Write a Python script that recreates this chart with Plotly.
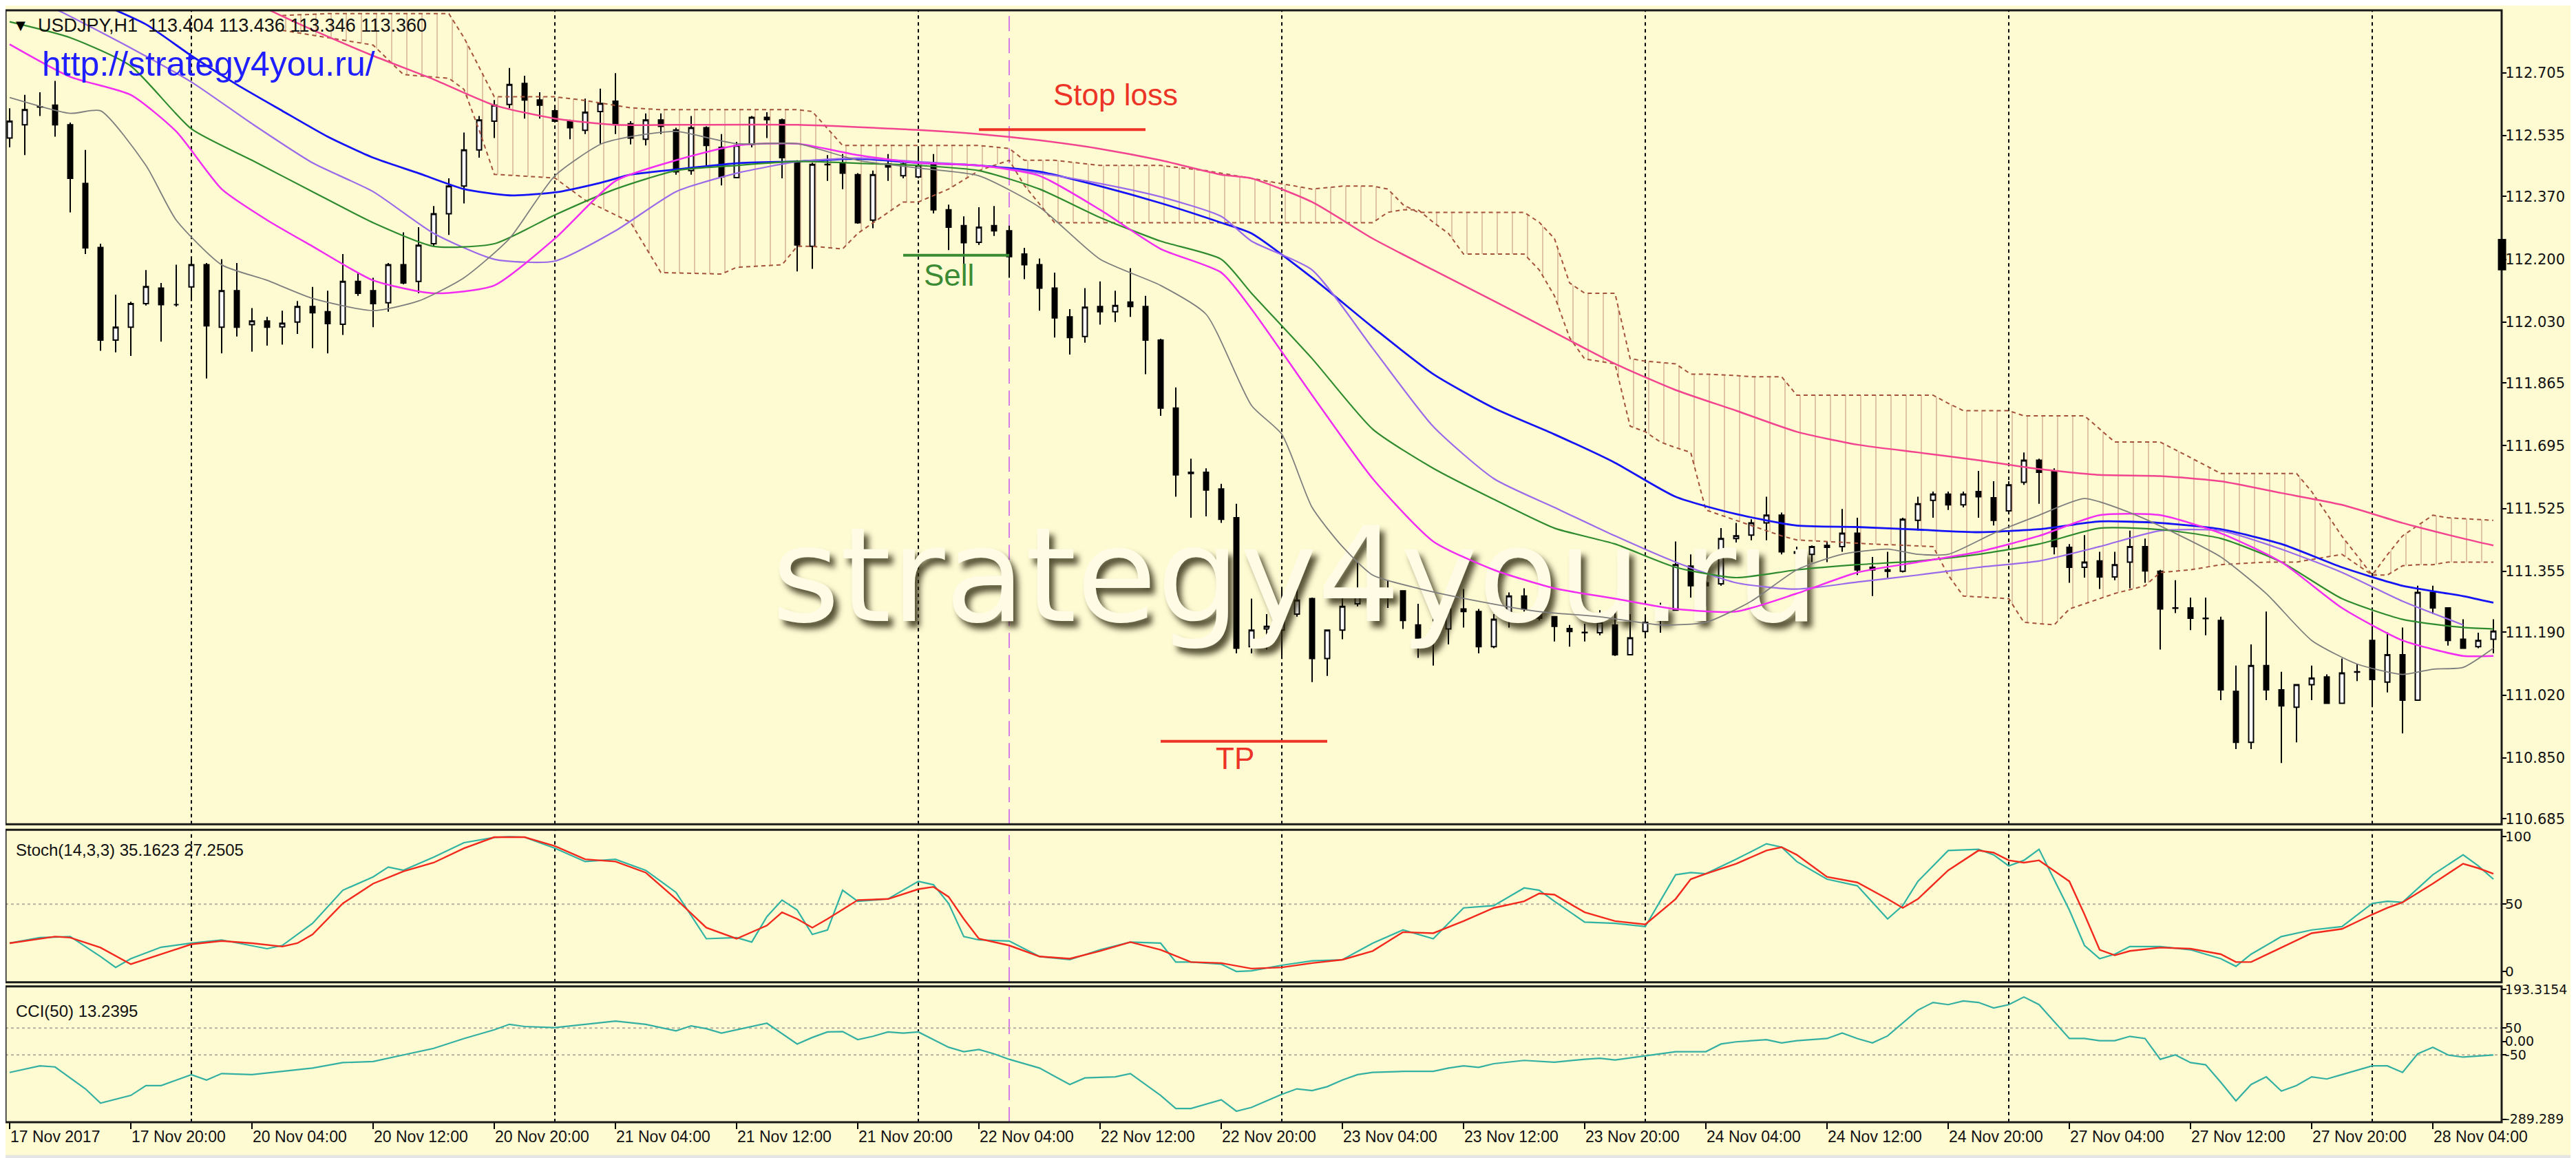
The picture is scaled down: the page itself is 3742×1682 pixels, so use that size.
import plotly.graph_objects as go

# ---------------- DATA ----------------
symbol_header = "USDJPY,H1  113.404 113.436 113.346 113.360"
site_url = "http://strategy4you.ru/"
watermark_text = "strategy4you.ru"
stoch_label = "Stoch(14,3,3) 35.1623 27.2505"
cci_label = "CCI(50) 13.2395"

bars = list(range(165))
opens = [112.528, 112.564, 112.613, 112.617, 112.564, 112.405, 112.232, 111.981, 112.016, 112.080,
         112.122, 112.077, 112.125, 112.185, 112.016, 112.115, 112.023, 112.033, 112.017, 112.030,
         112.072, 112.058, 112.024, 112.140, 112.115, 112.082, 112.185, 112.140, 112.242, 112.323,
         112.398, 112.496, 112.574, 112.619, 112.676, 112.631, 112.602, 112.574, 112.549, 112.600,
         112.628, 112.567, 112.525, 112.577, 112.550, 112.440, 112.556, 112.503, 112.421, 112.511,
         112.584, 112.577, 112.461, 112.235, 112.457, 112.461, 112.429, 112.306, 112.458, 112.426,
         112.423, 112.461, 112.334, 112.291, 112.246, 112.291, 112.277, 112.214, 112.185, 112.122,
         112.044, 111.991, 112.072, 112.058, 112.084, 112.072, 111.981, 111.797, 111.623, 111.623,
         111.578, 111.500, 111.151, 111.199, 111.196, 111.239, 111.281, 111.119, 111.196, 111.267,
         111.302, 111.288, 111.302, 111.210, 111.171, 111.199, 111.253, 111.246, 111.151, 111.222,
         111.288, 111.253, 111.232, 111.200, 111.190, 111.189, 111.210, 111.129, 111.192, 111.222,
         111.250, 111.369, 111.324, 111.321, 111.444, 111.453, 111.486, 111.507, 111.408, 111.401,
         111.425, 111.422, 111.458, 111.366, 111.359, 111.355, 111.493, 111.547, 111.564, 111.535,
         111.571, 111.554, 111.519, 111.596, 111.656, 111.627, 111.420, 111.366, 111.383, 111.340,
         111.380, 111.422, 111.355, 111.256, 111.256, 111.228, 111.222, 111.030, 110.892, 111.100,
         111.034, 110.987, 111.048, 111.069, 110.998, 111.083, 111.168, 111.055, 111.129, 111.006,
         111.298, 111.256, 111.171, 111.151, 111.171]
highs = [112.609, 112.645, 112.652, 112.683, 112.570, 112.496, 112.242, 112.104, 112.085, 112.171,
         112.136, 112.185, 112.200, 112.190, 112.200, 112.190, 112.068, 112.044, 112.061, 112.087,
         112.125, 112.115, 112.214, 112.164, 112.150, 112.190, 112.273, 112.287, 112.344, 112.419,
         112.543, 112.588, 112.631, 112.718, 112.697, 112.652, 112.609, 112.578, 112.635, 112.662,
         112.704, 112.574, 112.595, 112.595, 112.556, 112.588, 112.560, 112.539, 112.518, 112.588,
         112.598, 112.581, 112.468, 112.461, 112.482, 112.485, 112.433, 112.440, 112.485, 112.461,
         112.503, 112.485, 112.348, 112.316, 112.341, 112.344, 112.291, 112.231, 112.202, 112.164,
         112.065, 112.122, 112.140, 112.115, 112.176, 112.101, 111.985, 111.853, 111.660, 111.634,
         111.592, 111.538, 111.281, 111.239, 111.309, 111.309, 111.284, 111.196, 111.298, 111.380,
         111.352, 111.331, 111.302, 111.267, 111.242, 111.309, 111.307, 111.253, 111.239, 111.298,
         111.309, 111.274, 111.232, 111.210, 111.213, 111.250, 111.246, 111.239, 111.232, 111.270,
         111.436, 111.401, 111.331, 111.472, 111.486, 111.496, 111.557, 111.514, 111.422, 111.425,
         111.436, 111.524, 111.500, 111.394, 111.408, 111.500, 111.557, 111.571, 111.571, 111.571,
         111.627, 111.599, 111.599, 111.677, 111.660, 111.634, 111.429, 111.453, 111.408, 111.408,
         111.465, 111.444, 111.359, 111.331, 111.284, 111.284, 111.232, 111.100, 111.157, 111.246,
         111.083, 111.048, 111.100, 111.076, 111.119, 111.104, 111.246, 111.190, 111.203, 111.316,
         111.316, 111.256, 111.225, 111.189, 111.225]
lows = [112.503, 112.482, 112.588, 112.532, 112.327, 112.214, 111.952, 111.948, 111.938, 112.075,
        111.977, 112.072, 112.087, 111.877, 111.945, 111.991, 111.950, 111.966, 111.969, 111.998,
        111.959, 111.945, 111.995, 112.101, 112.016, 112.058, 112.132, 112.108, 112.235, 112.266,
        112.351, 112.475, 112.528, 112.609, 112.581, 112.581, 112.570, 112.525, 112.539, 112.513,
        112.539, 112.511, 112.508, 112.539, 112.429, 112.429, 112.454, 112.400, 112.419, 112.503,
        112.528, 112.419, 112.167, 112.174, 112.412, 112.390, 112.296, 112.284, 112.412, 112.419,
        112.419, 112.324, 112.225, 112.185, 112.239, 112.263, 112.150, 112.146, 112.061, 111.988,
        111.942, 111.974, 112.023, 112.030, 112.044, 111.889, 111.776, 111.557, 111.500, 111.504,
        111.486, 111.133, 111.133, 111.143, 111.126, 111.232, 111.055, 111.072, 111.171, 111.260,
        111.281, 111.256, 111.199, 111.121, 111.100, 111.157, 111.203, 111.133, 111.147, 111.203,
        111.246, 111.222, 111.165, 111.151, 111.165, 111.182, 111.126, 111.129, 111.182, 111.189,
        111.250, 111.284, 111.260, 111.316, 111.433, 111.439, 111.439, 111.401, 111.331, 111.380,
        111.380, 111.408, 111.345, 111.288, 111.338, 111.352, 111.465, 111.500, 111.521, 111.528,
        111.500, 111.479, 111.514, 111.589, 111.538, 111.401, 111.324, 111.338, 111.307, 111.331,
        111.309, 111.324, 111.143, 111.242, 111.196, 111.182, 111.006, 110.874, 110.874, 111.006,
        110.836, 110.892, 111.006, 110.996, 110.996, 111.058, 110.991, 111.027, 110.916, 111.006,
        111.239, 111.154, 111.147, 111.147, 111.133]
closes = [112.574, 112.605, 112.612, 112.564, 112.419, 112.231, 111.981, 112.016, 112.080, 112.126,
          112.077, 112.077, 112.185, 112.020, 112.115, 112.016, 112.033, 112.016, 112.027, 112.072,
          112.055, 112.026, 112.140, 112.108, 112.080, 112.185, 112.136, 112.238, 112.323, 112.398,
          112.496, 112.577, 112.617, 112.673, 112.631, 112.617, 112.574, 112.556, 112.598, 112.622,
          112.567, 112.528, 112.577, 112.560, 112.437, 112.556, 112.508, 112.423, 112.508, 112.584,
          112.578, 112.475, 112.239, 112.457, 112.456, 112.433, 112.299, 112.429, 112.450, 112.458,
          112.454, 112.334, 112.287, 112.245, 112.287, 112.277, 112.207, 112.185, 112.122, 112.041,
          111.988, 112.070, 112.058, 112.075, 112.072, 111.981, 111.797, 111.616, 111.620, 111.575,
          111.496, 111.147, 111.196, 111.206, 111.239, 111.277, 111.119, 111.196, 111.260, 111.302,
          111.288, 111.298, 111.222, 111.171, 111.199, 111.253, 111.246, 111.151, 111.225, 111.288,
          111.253, 111.228, 111.206, 111.192, 111.189, 111.217, 111.129, 111.175, 111.217, 111.253,
          111.373, 111.316, 111.316, 111.444, 111.451, 111.486, 111.507, 111.408, 111.404, 111.422,
          111.420, 111.458, 111.359, 111.359, 111.355, 111.496, 111.538, 111.564, 111.535, 111.564,
          111.557, 111.493, 111.589, 111.656, 111.623, 111.422, 111.366, 111.380, 111.340, 111.373,
          111.422, 111.356, 111.253, 111.255, 111.228, 111.227, 111.034, 110.892, 111.100, 111.034,
          110.991, 111.048, 111.066, 110.998, 111.080, 111.082, 111.062, 111.129, 111.006, 111.298,
          111.256, 111.168, 111.147, 111.168, 111.193]

# moving averages (read at sample bars)
pink_bars = [12, 17, 20, 24, 28, 32, 36, 40, 44, 52, 60, 64, 68, 72, 76, 80, 82, 86, 90, 94, 98, 102,
             106, 110, 114, 118, 122, 126, 130, 134, 138, 142, 146, 150, 154, 158, 162, 164]
pink_vals = [112.991, 112.878, 112.821, 112.751, 112.687, 112.617, 112.581, 112.564, 112.564, 112.564,
             112.550, 112.539, 112.522, 112.499, 112.468, 112.429, 112.419, 112.355, 112.256, 112.171,
             112.087, 112.002, 111.917, 111.846, 111.790, 111.733, 111.698, 111.677, 111.656, 111.632,
             111.616, 111.613, 111.599, 111.567, 111.535, 111.486, 111.444, 111.425]
blue_bars = [6, 9, 12, 15, 18, 21, 24, 27, 30, 33, 36, 39, 41, 44, 48, 52, 56, 60, 64, 68, 72, 76, 80,
             82, 86, 90, 94, 98, 102, 106, 110, 114, 118, 122, 126, 130, 134, 138, 142, 146, 150, 154,
             158, 162, 164]
blue_vals = [112.892, 112.836, 112.751, 112.673, 112.602, 112.532, 112.475, 112.433, 112.390, 112.373,
             112.381, 112.407, 112.429, 112.443, 112.460, 112.465, 112.472, 112.461, 112.454, 112.437,
             112.398, 112.352, 112.299, 112.270, 112.150, 112.016, 111.889, 111.797, 111.726, 111.649,
             111.557, 111.510, 111.479, 111.475, 111.468, 111.461, 111.469, 111.490, 111.486, 111.469,
             111.429, 111.366, 111.316, 111.288, 111.270]
purple_bars = [0, 3, 8, 12, 16, 20, 24, 28, 32, 36, 40, 44, 48, 52, 56, 60, 64, 68, 72, 76, 80, 82, 86,
               90, 94, 98, 102, 106, 110, 114, 118, 122, 126, 130, 134, 138, 142, 146, 150, 154, 158, 162]
purple_vals = [112.930, 112.878, 112.772, 112.680, 112.567, 112.461, 112.383, 112.270, 112.200, 112.195,
               112.277, 112.383, 112.433, 112.464, 112.474, 112.464, 112.454, 112.433, 112.405, 112.369,
               112.316, 112.249, 112.171, 111.959, 111.747, 111.606, 111.528, 111.451, 111.380, 111.324,
               111.307, 111.326, 111.345, 111.366, 111.383, 111.422, 111.465, 111.465, 111.415, 111.352,
               111.274, 111.210]
green_bars = [0, 4, 8, 12, 16, 20, 24, 28, 32, 36, 40, 44, 48, 52, 56, 60, 64, 68, 72, 76, 80, 82, 86,
              90, 94, 98, 102, 106, 110, 114, 118, 122, 126, 130, 134, 138, 142, 146, 150, 154, 158, 162, 164]
green_vals = [112.843, 112.800, 112.723, 112.553, 112.468, 112.383, 112.299, 112.235, 112.242, 112.320,
              112.390, 112.440, 112.454, 112.465, 112.460, 112.454, 112.440, 112.390, 112.313, 112.249,
              112.200, 112.108, 111.931, 111.740, 111.634, 111.550, 111.472, 111.429, 111.366, 111.338,
              111.359, 111.373, 111.383, 111.401, 111.429, 111.472, 111.468, 111.444, 111.380, 111.281,
              111.225, 111.203, 111.199]
magenta_bars = [0, 4, 8, 11, 14, 17, 20, 24, 28, 32, 36, 40, 44, 48, 52, 56, 60, 64, 68, 72, 76, 80, 82,
                86, 90, 94, 98, 102, 106, 110, 114, 118, 122, 126, 130, 134, 138, 142, 146, 150, 154,
                158, 162, 164]
magenta_vals = [112.782, 112.694, 112.645, 112.546, 112.390, 112.306, 112.235, 112.143, 112.108, 112.129,
                112.256, 112.412, 112.468, 112.508, 112.513, 112.482, 112.461, 112.454, 112.426, 112.334,
                112.228, 112.164, 112.065, 111.832, 111.606, 111.436, 111.359, 111.309, 111.281, 111.253,
                111.246, 111.295, 111.352, 111.380, 111.408, 111.451, 111.507, 111.507, 111.458, 111.380,
                111.256, 111.168, 111.126, 111.126]
gray_bars = [0, 4, 6, 9, 11, 14, 17, 20, 24, 27, 30, 33, 36, 39, 41, 44, 48, 52, 56, 60, 64, 68, 72, 76,
             79, 82, 84, 86, 88, 90, 93, 97, 101, 105, 109, 112, 115, 118, 121, 124, 126, 128, 131, 134,
             137, 140, 143, 146, 149, 152, 155, 158, 160, 162, 164]
gray_vals = [112.638, 112.595, 112.602, 112.454, 112.306, 112.185, 112.143, 112.094, 112.061, 112.087,
             112.150, 112.256, 112.426, 112.511, 112.532, 112.546, 112.513, 112.513, 112.468, 112.447,
             112.426, 112.341, 112.200, 112.129, 112.051, 111.804, 111.726, 111.528, 111.422, 111.345,
             111.309, 111.274, 111.246, 111.232, 111.210, 111.217, 111.274, 111.359, 111.401, 111.415,
             111.401, 111.401, 111.458, 111.507, 111.552, 111.514, 111.458, 111.394, 111.295, 111.168,
             111.104, 111.076, 111.090, 111.095, 111.147]

# Ichimoku cloud edges
cloud_bars = [18, 21, 24, 26, 29, 30, 31, 32, 36, 38, 41, 43, 47, 48, 51, 52, 53, 55, 56, 59, 60, 62, 64,
              66, 67, 69, 72, 76, 79, 82, 86, 88, 90, 91, 92, 93, 94, 95, 96, 100, 101, 102, 103, 104,
              106, 107, 108, 109, 110, 111, 112, 114, 115, 116, 117, 118, 123, 127, 128, 129, 132, 133,
              135, 136, 137, 139, 141, 142, 144, 146, 149, 151, 152, 154, 156, 157, 158, 159, 160, 161, 164]
cloud_upper = [112.86, 112.865, 112.865, 112.865, 112.865, 112.80, 112.72, 112.64, 112.64, 112.63, 112.61,
               112.605, 112.605, 112.605, 112.605, 112.605, 112.60, 112.508, 112.508, 112.508, 112.508,
               112.508, 112.508, 112.50, 112.468, 112.468, 112.454, 112.454, 112.44, 112.419, 112.390,
               112.398, 112.398, 112.390, 112.348, 112.327, 112.327, 112.327, 112.327, 112.327, 112.30,
               112.256, 112.136, 112.108, 112.108, 111.931, 111.924, 111.920, 111.917, 111.889, 111.889,
               111.885, 111.882, 111.882, 111.882, 111.832, 111.832, 111.832, 111.81, 111.790, 111.790,
               111.776, 111.776, 111.776, 111.776, 111.705, 111.705, 111.705, 111.663, 111.620, 111.620,
               111.620, 111.571, 111.45, 111.345, 111.40, 111.451, 111.479, 111.507, 111.500, 111.493]
cloud_lower = [112.82, 112.80, 112.78, 112.70, 112.69, 112.66, 112.55, 112.43, 112.42, 112.36, 112.30,
               112.164, 112.160, 112.178, 112.185, 112.235, 112.235, 112.228, 112.270, 112.355, 112.355,
               112.390, 112.440, 112.468, 112.40, 112.299, 112.299, 112.299, 112.299, 112.299, 112.299,
               112.299, 112.299, 112.327, 112.334, 112.334, 112.300, 112.270, 112.214, 112.214, 112.171,
               112.101, 111.988, 111.93, 111.917, 111.748, 111.733, 111.705, 111.69, 111.677, 111.521,
               111.493, 111.479, 111.465, 111.451, 111.440, 111.429, 111.422, 111.345, 111.288, 111.281,
               111.217, 111.210, 111.253, 111.267, 111.295, 111.316, 111.352, 111.359, 111.373, 111.380,
               111.380, 111.387, 111.401, 111.345, 111.345, 111.370, 111.373, 111.373, 111.380, 111.380]

# trade marks
sell_level, sell_from, sell_to = 112.211, 59, 66
stop_level, stop_from, stop_to = 112.551, 64, 75
tp_level, tp_from, tp_to = 110.895, 76, 87
entry_bar = 66
separator_bars = [12, 36, 60, 84, 108, 132, 156]
last_price_mark = [112.17, 112.255]

# Stochastic
k_bars = [0, 2, 4, 6, 7, 8, 10, 12, 14, 16, 17, 18, 20, 22, 24, 25, 26, 28, 30, 32, 33, 34, 36, 38, 40,
          42, 44, 46, 48, 49, 50, 51, 52, 53, 54, 55, 56, 58, 60, 61, 62, 63, 64, 66, 68, 70, 72, 74, 76,
          77, 78, 80, 81, 82, 84, 86, 88, 90, 92, 94, 96, 98, 100, 101, 102, 104, 106, 108, 110, 111,
          112, 114, 116, 117, 118, 120, 122, 124, 125, 126, 128, 130, 131, 132, 133, 134, 136, 137, 138,
          139, 140, 142, 144, 146, 147, 148, 150, 152, 154, 156, 157, 158, 160, 162, 163, 164]
k_vals = [21.0, 25.1, 25.9, 11.1, 3.0, 9.5, 18.0, 21.0, 23.4, 19.3, 16.9, 19.3, 35.7, 60.3, 70.2, 77.5,
          75.1, 84.9, 95.6, 99.5, 100.0, 99.7, 91.5, 81.6, 83.3, 75.1, 58.7, 24.3, 25.1, 21.8, 40.7, 53.0,
          45.6, 27.5, 30.8, 60.3, 52.1, 53.8, 66.9, 64.4, 50.5, 25.9, 23.4, 22.6, 11.1, 8.7, 16.1, 21.8,
          21.0, 7.0, 7.0, 5.4, 0.0, 0.5, 4.6, 7.9, 8.7, 21.0, 30.8, 24.3, 47.2, 48.9, 62.0, 60.3, 52.1,
          36.6, 35.7, 33.3, 71.8, 73.4, 72.6, 83.3, 94.8, 92.3, 81.6, 68.5, 63.6, 39.0, 48.9, 66.9, 89.8,
          90.7, 86.6, 78.4, 82.5, 90.7, 45.6, 19.3, 9.5, 12.8, 18.5, 18.5, 16.1, 9.5, 3.8, 12.8, 25.9,
          30.8, 33.3, 50.5, 52.1, 51.3, 71.8, 86.6, 78.4, 68.5]
d_bars = [0, 2, 3, 4, 6, 8, 10, 12, 14, 16, 18, 19, 20, 22, 24, 26, 28, 30, 32, 34, 36, 38, 40, 42, 44,
          46, 48, 50, 51, 52, 53, 54, 56, 58, 60, 61, 62, 63, 64, 66, 68, 70, 72, 74, 76, 78, 80, 82, 84,
          86, 88, 90, 92, 94, 96, 98, 100, 101, 102, 104, 106, 108, 110, 111, 112, 114, 116, 117, 118,
          120, 122, 124, 125, 126, 128, 130, 131, 132, 133, 134, 136, 137, 138, 139, 140, 142, 144, 146,
          147, 148, 150, 152, 154, 156, 157, 158, 160, 162, 163, 164]
d_vals = [21.0, 24.3, 25.9, 25.1, 17.7, 5.4, 12.8, 20.2, 22.6, 21.0, 18.5, 21.0, 27.5, 50.5, 65.2, 74.3,
          80.8, 91.5, 99.7, 99.7, 93.1, 83.3, 81.6, 73.4, 53.8, 32.5, 24.3, 34.1, 43.9, 39.0, 32.5, 39.0,
          53.0, 53.8, 61.1, 62.8, 55.4, 39.0, 24.3, 19.3, 11.1, 9.5, 15.2, 21.8, 16.1, 7.0, 6.2, 2.1, 3.0,
          6.2, 8.7, 15.2, 29.2, 28.4, 37.4, 47.2, 52.1, 57.9, 57.0, 43.9, 37.4, 34.9, 53.8, 68.5, 72.6,
          80.0, 89.8, 92.3, 86.6, 70.2, 66.1, 53.8, 47.2, 53.8, 75.1, 89.8, 88.2, 82.5, 80.8, 82.5, 66.9,
          42.3, 16.1, 12.0, 15.2, 17.7, 16.9, 12.8, 7.0, 7.0, 17.7, 28.4, 31.6, 42.3, 47.2, 51.3, 65.2,
          80.0, 76.7, 72.6]
stoch_levels = [50]

# CCI
cci_bars = [0, 2, 3, 5, 6, 8, 9, 10, 12, 13, 14, 16, 18, 20, 22, 24, 26, 28, 30, 32, 33, 34, 36, 38, 40,
            42, 44, 45, 46, 47, 49, 50, 52, 53, 54, 55, 56, 57, 58, 59, 60, 62, 63, 64, 65, 66, 68, 70,
            71, 73, 74, 76, 77, 78, 80, 81, 82, 83, 84, 85, 86, 87, 88, 89, 90, 92, 94, 95, 96, 97, 98,
            100, 102, 104, 105, 106, 108, 110, 112, 113, 114, 116, 117, 118, 120, 121, 122, 123, 124,
            126, 127, 128, 129, 130, 131, 132, 133, 134, 136, 137, 138, 139, 140, 141, 142, 143, 144,
            145, 146, 147, 148, 149, 150, 151, 152, 153, 154, 156, 157, 158, 159, 160, 161, 162, 164]
cci_vals = [-115.0, -90.7, -94.7, -176.0, -228.9, -200.4, -163.8, -163.8, -123.2, -143.5, -119.1, -123.2,
            -111.0, -98.8, -78.5, -74.4, -50.0, -25.6, 11.0, 43.5, 63.8, 55.7, 51.6, 63.8, 76.0, 63.8,
            39.4, 58.1, 47.6, 31.3, 55.7, 67.9, -9.3, 15.0, 35.4, 37.0, 6.9, 19.1, 35.4, 31.3, 35.4,
            -21.5, -37.8, -29.7, -45.9, -66.3, -98.8, -159.8, -135.4, -131.3, -119.1, -200.4, -249.2,
            -249.2, -216.7, -259.0, -245.0, -220.7, -196.3, -176.0, -182.5, -167.9, -143.5, -123.2,
            -115.0, -111.0, -111.0, -98.8, -90.7, -96.3, -82.5, -70.3, -76.8, -66.3, -62.2, -68.7, -54.1,
            -37.8, -37.8, -9.3, -1.2, 6.9, -5.3, 2.8, 11.0, 31.3, 11.0, -5.3, 20.7, 116.7, 145.1, 137.0,
            150.8, 145.1, 124.8, 137.0, 165.4, 137.0, 11.0, 11.0, 2.8, 2.8, 19.1, 11.0, -66.3, -50.0,
            -78.5, -86.6, -151.6, -220.7, -159.8, -131.3, -184.1, -163.8, -131.3, -139.4, -123.2, -90.7,
            -90.7, -115.0, -45.9, -21.5, -50.0, -58.1, -50.0]
cci_levels = [50, -50]

# axes
tick_bars = [0, 8, 16, 24, 32, 40, 48, 56, 64, 72, 80, 88, 96, 104, 112, 120, 128, 136, 144, 152, 160]
tick_labels = ["17 Nov 2017", "17 Nov 20:00", "20 Nov 04:00", "20 Nov 12:00", "20 Nov 20:00",
               "21 Nov 04:00", "21 Nov 12:00", "21 Nov 20:00", "22 Nov 04:00", "22 Nov 12:00",
               "22 Nov 20:00", "23 Nov 04:00", "23 Nov 12:00", "23 Nov 20:00", "24 Nov 04:00",
               "24 Nov 12:00", "24 Nov 20:00", "27 Nov 04:00", "27 Nov 12:00", "27 Nov 20:00",
               "28 Nov 04:00"]
price_ticks = [112.705, 112.535, 112.370, 112.200, 112.030, 111.865, 111.695, 111.525, 111.355,
               111.190, 111.020, 110.850, 110.685]
stoch_ticks = [0, 50, 100]
cci_ticks = [193.3154, 50, 0, -50, -289.289]
cci_tick_text = ["193.3154", "50", "0.00", "-50", "-289.289"]

# annotation text positions (bar, price)
stop_text_pos = (73.0, 112.645)
sell_text_pos = (62.0, 112.158)
tp_text_pos = (80.9, 110.849)
watermark_pos = (84.9, 111.309)

# ---------------- STYLE ----------------
BG = "#FEFAD2"
CLOUD = "#A5523A"
RED = "#EC3326"
GREEN = "#3A8B34"
W, H = 3742, 1682
MAIN_DOM = [0.2679, 1.0]
STOCH_DOM = [0.1259, 0.2630]
CCI_DOM = [0.0, 0.1222]
PRICE_RANGE = [110.670, 112.874]
STOCH_RANGE = [-8.0, 105.2]
CCI_RANGE = [-300.0, 205.0]
X_RANGE = [-0.273, 164.545]

fig = go.Figure()

# watermark beneath everything
wm_font = dict(family="DejaVu Sans", size=190, color="#FFFBE4")
try:
    fig.add_trace(go.Scatter(x=[watermark_pos[0]], y=[watermark_pos[1]], mode="text", text=[watermark_text],
                             textfont=dict(wm_font, shadow="7px 9px 9px rgba(45,40,15,0.8)"),
                             hoverinfo="skip", showlegend=False, xaxis="x", yaxis="y", cliponaxis=False))
except ValueError:
    fig.add_trace(go.Scatter(x=[watermark_pos[0]], y=[watermark_pos[1]], mode="text", text=[watermark_text],
                             textfont=wm_font, hoverinfo="skip", showlegend=False, xaxis="x", yaxis="y"))

# candles
fig.add_trace(go.Candlestick(
    x=bars, open=opens, high=highs, low=lows, close=closes,
    increasing=dict(line=dict(color="black", width=2), fillcolor="white"),
    decreasing=dict(line=dict(color="black", width=2), fillcolor="black"),
    whiskerwidth=0, hoverinfo="skip", showlegend=False, xaxis="x", yaxis="y"))

# Ichimoku cloud (overlay axis so it draws over candles)
fig.add_trace(go.Scatter(x=cloud_bars, y=cloud_lower, mode="lines",
                         line=dict(color=CLOUD, width=2, dash="6px,5px"),
                         hoverinfo="skip", showlegend=False, xaxis="x", yaxis="y4"))
fig.add_trace(go.Scatter(x=cloud_bars, y=cloud_upper, mode="lines",
                         line=dict(color=CLOUD, width=2, dash="6px,5px"),
                         fill="tonexty", fillcolor="rgba(0,0,0,0)",
                         fillpattern=dict(shape="|", fgcolor="rgba(165,82,58,0.7)",
                                          bgcolor="rgba(0,0,0,0)", size=22, solidity=0.085),
                         hoverinfo="skip", showlegend=False, xaxis="x", yaxis="y4"))

ma_specs = [
    (pink_bars, pink_vals, "#F2448F", 2.5),
    (blue_bars, blue_vals, "#1414F5", 2.8),
    (purple_bars, purple_vals, "#9A6AEA", 2.2),
    (green_bars, green_vals, "#2E8B2E", 2.2),
    (magenta_bars, magenta_vals, "#F22CF2", 2.5),
    (gray_bars, gray_vals, "#7E7E7E", 1.8),
]
for xs, ys, col, wd in ma_specs:
    fig.add_trace(go.Scatter(x=xs, y=ys, mode="lines", line=dict(color=col, width=wd, shape="spline", smoothing=0.6),
                             hoverinfo="skip", showlegend=False, xaxis="x", yaxis="y4"))

# trade levels
for (lvl, a, b, col) in [(stop_level, stop_from, stop_to, RED), (sell_level, sell_from, sell_to, GREEN),
                         (tp_level, tp_from, tp_to, RED)]:
    fig.add_trace(go.Scatter(x=[a, b], y=[lvl, lvl], mode="lines", line=dict(color=col, width=4),
                             hoverinfo="skip", showlegend=False, xaxis="x", yaxis="y4"))

# stochastic
fig.add_trace(go.Scatter(x=k_bars, y=k_vals, mode="lines", line=dict(color="#2FB3A2", width=2.2),
                         hoverinfo="skip", showlegend=False, xaxis="x", yaxis="y2"))
fig.add_trace(go.Scatter(x=d_bars, y=d_vals, mode="lines", line=dict(color="#F2291C", width=2.4),
                         hoverinfo="skip", showlegend=False, xaxis="x", yaxis="y2"))
# CCI
fig.add_trace(go.Scatter(x=cci_bars, y=cci_vals, mode="lines", line=dict(color="#33B0A2", width=2.2),
                         hoverinfo="skip", showlegend=False, xaxis="x", yaxis="y3"))

# ---------------- SHAPES ----------------
shapes = []
for yd in ["y domain", "y2 domain", "y3 domain"]:
    for sb in separator_bars:
        shapes.append(dict(type="line", xref="x", yref=yd, x0=sb, x1=sb, y0=0, y1=1,
                           line=dict(color="black", width=2, dash="5px,5px"), layer="below"))
    shapes.append(dict(type="line", xref="x", yref=yd, x0=entry_bar, x1=entry_bar, y0=0, y1=1,
                       line=dict(color="#D77DE8", width=2, dash="22px,10px"), layer="below"))
for lv in stoch_levels:
    shapes.append(dict(type="line", xref="x domain", yref="y2", x0=0, x1=1, y0=lv, y1=lv,
                       line=dict(color="#B4B0A0", width=2, dash="4px,4px"), layer="below"))
for lv in cci_levels:
    shapes.append(dict(type="line", xref="x domain", yref="y3", x0=0, x1=1, y0=lv, y1=lv,
                       line=dict(color="#B4B0A0", width=2, dash="4px,4px"), layer="below"))
for yd in ["y domain", "y2 domain", "y3 domain"]:
    shapes.append(dict(type="rect", xref="x domain", yref=yd, x0=0, x1=1, y0=0, y1=1,
                       line=dict(color="#1A1A1A", width=3), fillcolor="rgba(0,0,0,0)", layer="above"))
# current price block on axis
shapes.append(dict(type="rect", xref="x domain", yref="y", x0=0.9985, x1=1.0018,
                   y0=last_price_mark[0], y1=last_price_mark[1], fillcolor="black", line=dict(width=0)))
# grey strip at the very bottom of the window
shapes.append(dict(type="rect", xref="paper", yref="paper", x0=-0.01, x1=1.05, y0=-0.04, y1=-0.0296,
                   fillcolor="#E4E4E4", line=dict(width=0), layer="below"))

# ---------------- ANNOTATIONS ----------------
ann = [
    dict(text="▼", xref="x domain", yref="y domain", x=0.0035, y=0.9815, showarrow=False,
         xanchor="left", yanchor="middle", font=dict(family="DejaVu Sans", size=18, color="black")),
    dict(text=symbol_header, xref="x domain", yref="y domain", x=0.0125, y=0.9815, showarrow=False,
         xanchor="left", yanchor="middle", font=dict(family="Liberation Sans", size=27, color="#111111")),
    dict(text=site_url, xref="x domain", yref="y domain", x=0.0140, y=0.934, showarrow=False,
         xanchor="left", yanchor="middle", font=dict(family="Liberation Sans", size=50, color="#1E1EFF")),
    dict(text=stoch_label, xref="x domain", yref="y2 domain", x=0.0035, y=0.87, showarrow=False,
         xanchor="left", yanchor="middle", font=dict(family="Liberation Sans", size=24, color="#111111")),
    dict(text=cci_label, xref="x domain", yref="y3 domain", x=0.0035, y=0.82, showarrow=False,
         xanchor="left", yanchor="middle", font=dict(family="Liberation Sans", size=24, color="#111111")),
    dict(text="Stop loss", xref="x", yref="y", x=stop_text_pos[0], y=stop_text_pos[1], showarrow=False,
         font=dict(family="Liberation Sans", size=44, color=RED)),
    dict(text="Sell", xref="x", yref="y", x=sell_text_pos[0], y=sell_text_pos[1], showarrow=False,
         font=dict(family="Liberation Sans", size=44, color=GREEN)),
    dict(text="TP", xref="x", yref="y", x=tp_text_pos[0], y=tp_text_pos[1], showarrow=False,
         font=dict(family="Liberation Sans", size=44, color=RED)),
]

common_y = dict(side="right", anchor="x", showgrid=False, zeroline=False, ticks="outside",
                ticklen=6, tickwidth=2, tickcolor="black", fixedrange=True, ticklabelstandoff=-6)

fig.update_layout(
    width=W, height=H,
    margin=dict(l=0, r=116, t=2, b=60),
    paper_bgcolor=BG, plot_bgcolor=BG,
    showlegend=False, hovermode=False,
    boxgap=0.55,
    xaxis=dict(domain=[0, 1], anchor="y3", range=X_RANGE, showgrid=False, zeroline=False,
               tickmode="array", tickvals=tick_bars, ticktext=tick_labels, ticks="outside",
               ticklen=9, tickwidth=2, tickcolor="black", ticklabelposition="outside right",
               tickfont=dict(family="Liberation Sans", size=23, color="#111111"),
               rangeslider=dict(visible=False), fixedrange=True),
    yaxis=dict(common_y, domain=MAIN_DOM, range=PRICE_RANGE, tickmode="array", tickvals=price_ticks,
               ticktext=[f"{p:.3f}" for p in price_ticks],
               tickfont=dict(family="DejaVu Sans", size=21, color="#111111")),
    yaxis4=dict(overlaying="y", anchor="x", range=PRICE_RANGE, visible=False, showgrid=False,
                zeroline=False, fixedrange=True),
    yaxis2=dict(common_y, domain=STOCH_DOM, range=STOCH_RANGE, tickmode="array", tickvals=stoch_ticks,
                ticktext=[str(t) for t in stoch_ticks],
                tickfont=dict(family="DejaVu Sans", size=20, color="#111111")),
    yaxis3=dict(common_y, domain=CCI_DOM, range=CCI_RANGE, tickmode="array", tickvals=cci_ticks,
                ticktext=cci_tick_text,
                tickfont=dict(family="DejaVu Sans", size=19, color="#111111")),
    shapes=shapes,
    annotations=ann,
)

fig.write_html("out.html")
